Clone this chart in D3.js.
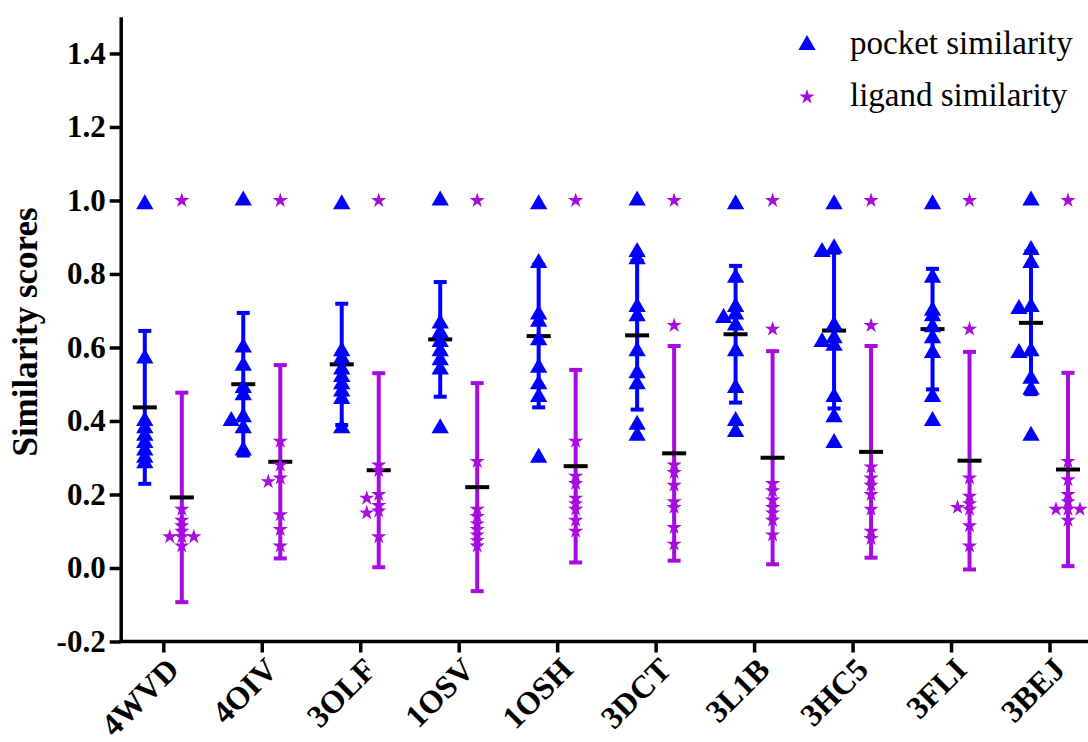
<!DOCTYPE html>
<html>
<head>
<meta charset="utf-8">
<script src="https://cdn.jsdelivr.net/npm/d3@7"></script>
<style>
  body { margin: 0; background: #fff; }
  svg { display: block; }
</style>
</head>
<body>
<svg id="chart" width="1088" height="742"></svg>
<script>
// categories (PDB ids)
const categories = ['4WVD', '4OIV', '3OLF', '1OSV', '1OSH', '3DCT', '3L1B', '3HC5', '3FLI', '3BEJ'];
const yTicks = [-0.2, 0.0, 0.2, 0.4, 0.6, 0.8, 1.0, 1.2, 1.4];

// individual scores per category
const pocketScores = [
  [0.99, 0.57, 0.40, 0.38, 0.36, 0.34, 0.32, 0.30, 0.285],
  [1.0, 0.60, 0.55, 0.49, 0.47, 0.41, 0.40, 0.38, 0.32],
  [0.99, 0.59, 0.57, 0.54, 0.52, 0.50, 0.48, 0.46, 0.38],
  [1.0, 0.665, 0.64, 0.615, 0.59, 0.565, 0.54, 0.38],
  [0.99, 0.83, 0.69, 0.67, 0.62, 0.545, 0.50, 0.465, 0.30],
  [1.0, 0.86, 0.84, 0.71, 0.685, 0.59, 0.53, 0.50, 0.39, 0.36],
  [0.99, 0.79, 0.71, 0.69, 0.68, 0.66, 0.59, 0.49, 0.40, 0.37],
  [0.99, 0.87, 0.86, 0.66, 0.625, 0.615, 0.605, 0.465, 0.41, 0.34],
  [0.99, 0.79, 0.70, 0.685, 0.655, 0.625, 0.585, 0.465, 0.40],
  [1.0, 0.865, 0.83, 0.71, 0.705, 0.59, 0.585, 0.515, 0.485, 0.36]
];
const ligandScores = [
  [1.0, 0.16, 0.13, 0.115, 0.10, 0.085, 0.085, 0.085, 0.06],
  [1.0, 0.345, 0.28, 0.245, 0.235, 0.145, 0.105, 0.06],
  [1.0, 0.28, 0.265, 0.20, 0.19, 0.17, 0.155, 0.15, 0.085],
  [1.0, 0.29, 0.16, 0.14, 0.12, 0.105, 0.09, 0.075, 0.06],
  [1.0, 0.345, 0.25, 0.23, 0.19, 0.175, 0.16, 0.13, 0.10],
  [1.0, 0.66, 0.28, 0.26, 0.225, 0.18, 0.165, 0.11, 0.065],
  [1.0, 0.65, 0.23, 0.21, 0.185, 0.165, 0.15, 0.13, 0.09],
  [1.0, 0.66, 0.275, 0.245, 0.225, 0.20, 0.16, 0.10, 0.08],
  [1.0, 0.65, 0.245, 0.195, 0.175, 0.165, 0.16, 0.115, 0.06],
  [1.0, 0.29, 0.24, 0.20, 0.18, 0.16, 0.16, 0.16, 0.13]
];

// mean and SD as plotted
const pocketMean = [0.437, 0.50, 0.554, 0.622, 0.631, 0.633, 0.636, 0.646, 0.65, 0.667];
const pocketSD = [0.208, 0.194, 0.165, 0.156, 0.194, 0.202, 0.186, 0.212, 0.164, 0.194];
const ligandMean = [0.192, 0.289, 0.266, 0.22, 0.277, 0.312, 0.30, 0.316, 0.292, 0.268];
const ligandSD = [0.285, 0.263, 0.264, 0.283, 0.262, 0.292, 0.29, 0.288, 0.296, 0.263];

const BLUE = '#0000ff';
const PURPLE = '#a60be0';
const FONT = 'Liberation Serif';

const svg = d3.select('#chart');
svg.append('rect').attr('width', 1088).attr('height', 742).attr('fill', '#fff');

const y = d3.scaleLinear().domain([-0.2, 1.5]).range([641.5, 16.7]);
const x = d3.scalePoint().domain(categories).range([163.3, 1049.5]);
const axisX0 = 120.7;
const groupOffset = 18.5;

// y axis
const yAxis = svg.append('g')
  .attr('transform', `translate(${axisX0},0)`)
  .call(d3.axisLeft(y).tickValues(yTicks).tickFormat(d => d.toFixed(1)).tickSize(11).tickSizeOuter(0).tickPadding(4));
yAxis.attr('font-family', null);
yAxis.select('.domain').attr('stroke-width', 3.5);
yAxis.selectAll('.tick line').attr('stroke-width', 3.5);
yAxis.selectAll('.tick text')
  .style('font-family', FONT).style('font-size', '31px').style('font-weight', 'bold')
  .attr('fill', '#000');

// x axis
const xAxis = svg.append('g')
  .attr('transform', `translate(0,${y(-0.2)})`)
  .call(d3.axisBottom(x).tickSize(11).tickSizeOuter(0));
xAxis.attr('font-family', null);
xAxis.select('.domain').remove();
xAxis.append('line')
  .attr('x1', axisX0 - 1.75).attr('x2', 1088)
  .attr('stroke', '#000').attr('stroke-width', 3.5);
xAxis.selectAll('.tick line').attr('stroke-width', 3.5);
xAxis.selectAll('.tick text')
  .style('font-family', FONT).style('font-size', '32px').style('font-weight', 'bold')
  .attr('fill', '#000')
  .attr('text-anchor', 'end')
  .attr('dy', null)
  .attr('y', 0)
  .attr('transform', 'translate(17,30) rotate(-45)');

// y label
svg.append('text')
  .attr('transform', `translate(37,332) rotate(-90)`)
  .attr('text-anchor', 'middle')
  .style('font-family', FONT).style('font-size', '35px').style('font-weight', 'bold')
  .text('Similarity scores');

// horizontal dodge so overlapping markers sit side by side
function dodge(values) {
  const placed = [];
  const candidates = [0, -12, 12, -6, 6, -18, 18];
  return values.map(v => {
    const py = y(v);
    let dx = candidates.find(c => !placed.some(q => Math.abs(q.py - py) < 5 && Math.abs(q.dx - c) < 9));
    if (dx === undefined) dx = 0;
    placed.push({ py, dx });
    return { v, dx };
  });
}

const series = [
  { scores: pocketScores, mean: pocketMean, sd: pocketSD, color: BLUE, shift: -groupOffset,
    symbol: d3.symbol().type(d3.symbolTriangle).size(130) },
  { scores: ligandScores, mean: ligandMean, sd: ligandSD, color: PURPLE, shift: groupOffset,
    symbol: d3.symbol().type(d3.symbolStar).size(72) }
];

series.forEach(s => {
  const g = svg.append('g');
  categories.forEach((cat, i) => {
    const cx = x(cat) + s.shift;
    const lo = s.mean[i] - s.sd[i];
    const hi = s.mean[i] + s.sd[i];
    // error bar
    g.append('line')
      .attr('x1', cx).attr('x2', cx).attr('y1', y(hi)).attr('y2', y(lo))
      .attr('stroke', s.color).attr('stroke-width', 4);
    [lo, hi].forEach(v => {
      g.append('line')
        .attr('x1', cx - 6.5).attr('x2', cx + 6.5).attr('y1', y(v)).attr('y2', y(v))
        .attr('stroke', s.color).attr('stroke-width', 4);
    });
    // mean
    g.append('line')
      .attr('x1', cx - 12).attr('x2', cx + 12).attr('y1', y(s.mean[i])).attr('y2', y(s.mean[i]))
      .attr('stroke', '#000').attr('stroke-width', 4);
  });
  categories.forEach((cat, i) => {
    const cx = x(cat) + s.shift;
    g.selectAll(null)
      .data(dodge(s.scores[i]))
      .join('path')
      .attr('d', s.symbol)
      .attr('transform', d => `translate(${cx + d.dx},${y(d.v)})`)
      .attr('fill', s.color);
  });
});

// legend
const legend = svg.append('g');
const legendItems = [
  { label: 'pocket similarity', color: BLUE, symbol: series[0].symbol, y: 45 },
  { label: 'ligand similarity', color: PURPLE, symbol: series[1].symbol, y: 97 }
];
legendItems.forEach(d => {
  legend.append('path')
    .attr('d', d.symbol)
    .attr('transform', `translate(807,${d.y})`)
    .attr('fill', d.color);
  legend.append('text')
    .attr('x', 850).attr('y', d.y + 9)
    .style('font-family', FONT).style('font-size', '33px')
    .attr('fill', '#000')
    .text(d.label);
});
</script>
</body>
</html>
